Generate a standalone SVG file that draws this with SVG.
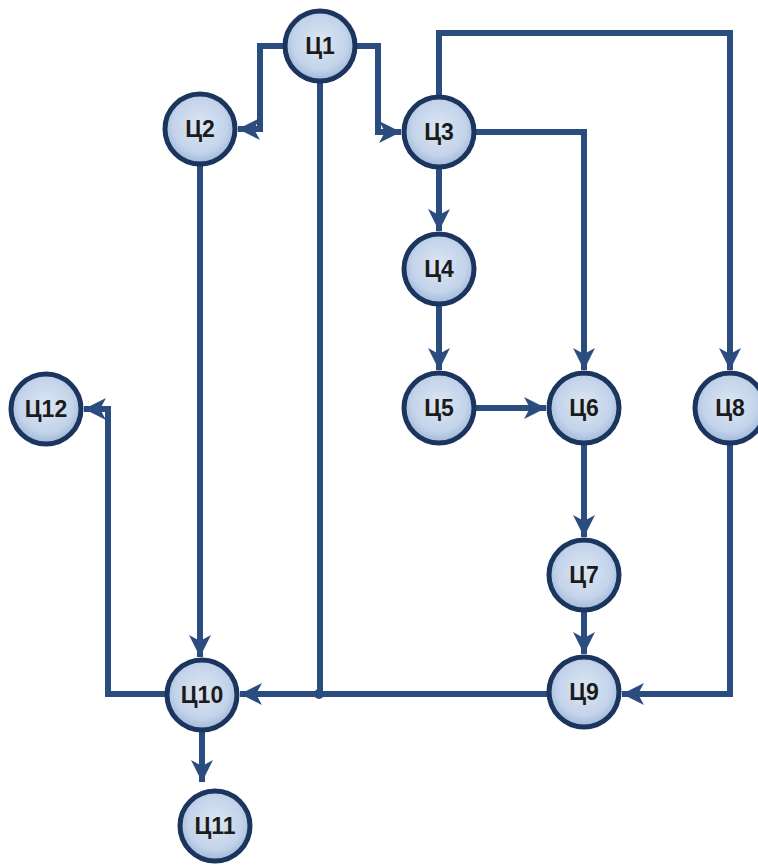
<svg xmlns="http://www.w3.org/2000/svg" width="758" height="866" viewBox="0 0 758 866">
<defs>
<radialGradient id="g" cx="50%" cy="45%" r="55%">
<stop offset="0" stop-color="#dde7f4"/>
<stop offset="0.7" stop-color="#c3d3ea"/>
<stop offset="1" stop-color="#9fb7d8"/>
</radialGradient>
<marker id="a" markerUnits="userSpaceOnUse" markerWidth="26" markerHeight="26" viewBox="0 -13 26 26" refX="22" refY="0" orient="auto">
<path d="M0,-11 L22,0 L0,11 L6,0 Z" fill="#2a4c7f"/>
</marker>
<style>
.n circle{fill:url(#g);stroke:#1c355f;stroke-width:5}
.n text{font-family:"Liberation Sans","DejaVu Sans",sans-serif;font-weight:bold;font-size:23px;fill:#1b1b1b;text-anchor:middle;dominant-baseline:central}
.c path{fill:none;stroke:#2a4c7f;stroke-width:6;stroke-linejoin:miter}
.c .ar{marker-end:url(#a)}
</style>
</defs>
<rect width="758" height="866" fill="#ffffff"/>
<g id="connectors" class="c">
<path class="ar" d="M285,46 H260 V129 H238"/>
<path class="ar" d="M355,46 H378 V132 H401"/>
<path d="M320,81 V694"/>
<path class="ar" d="M439,97 V33 H730 V370"/>
<path class="ar" d="M474,132 H584 V370"/>
<path class="ar" d="M439,167 V231"/>
<path class="ar" d="M439,304 V370"/>
<path class="ar" d="M474,408 H546"/>
<path class="ar" d="M584,443 V537"/>
<path class="ar" d="M584,610 V654"/>
<path class="ar" d="M730,443 V694 H622"/>
<path class="ar" d="M547,694 H240"/>
<path class="ar" d="M200,164 V657"/>
<path class="ar" d="M167,694 H108 V409 H84"/>
<path class="ar" d="M202,730 V782"/>
<circle cx="319" cy="694" r="5" fill="#2a4c7f"/>
</g>
<g id="n1" class="n"><circle cx="320" cy="46" r="35"/><text x="320" y="46">Ц1</text></g>
<g id="n2" class="n"><circle cx="200" cy="129" r="35"/><text x="200" y="129">Ц2</text></g>
<g id="n3" class="n"><circle cx="439" cy="132" r="35"/><text x="439" y="132">Ц3</text></g>
<g id="n4" class="n"><circle cx="439" cy="269" r="35"/><text x="439" y="269">Ц4</text></g>
<g id="n5" class="n"><circle cx="439" cy="408" r="35"/><text x="439" y="408">Ц5</text></g>
<g id="n6" class="n"><circle cx="584" cy="408" r="35"/><text x="584" y="408">Ц6</text></g>
<g id="n8" class="n"><circle cx="730" cy="408" r="35"/><text x="730" y="408">Ц8</text></g>
<g id="n12" class="n"><circle cx="46" cy="409" r="35"/><text x="46" y="409">Ц12</text></g>
<g id="n7" class="n"><circle cx="584" cy="575" r="35"/><text x="584" y="575">Ц7</text></g>
<g id="n9" class="n"><circle cx="584" cy="692" r="35"/><text x="584" y="692">Ц9</text></g>
<g id="n10" class="n"><circle cx="202" cy="695" r="35"/><text x="202" y="695">Ц10</text></g>
<g id="n11" class="n"><circle cx="215" cy="826" r="35"/><text x="215" y="826">Ц11</text></g>
</svg>
